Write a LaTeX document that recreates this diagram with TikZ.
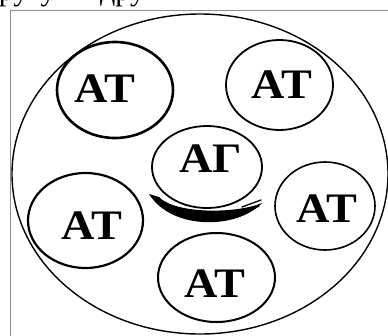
\documentclass[tikz,border=0pt]{standalone}
\usepackage{fontspec}
\setmainfont{Liberation Serif}
\newfontfamily\lblfont[FakeStretch=1.1]{Liberation Serif}
\usetikzlibrary{shapes.geometric}
\tikzset{
  cell/.style={ellipse, draw=black, inner sep=0pt, outer sep=0pt},
  lbl/.style={anchor=base, inner sep=0pt, font=\lblfont\bfseries\fontsize{42}{42}\selectfont},
  toptxt/.style={anchor=base west, inner sep=0pt, font=\fontsize{30}{30}\selectfont}
}
\begin{document}
\begin{tikzpicture}[x=1pt,y=-1pt]
\useasboundingbox (0,0) rectangle (388,335);
\clip (0,0) rectangle (388,335);
\fill[white] (0,0) rectangle (388,335);
% cut-off text line at the top
\node[toptxt] (w1) at (-16,0) {кругу};
\node[toptxt] (w2) at (100,0) {друг};
% frame
\draw[black!45, line width=1.5pt] (10.5,10.5) rectangle (420,420);
% outer ellipse
\node[cell, line width=1.4pt, minimum width=376pt, minimum height=320pt] (outer) at (200,174) {};
% small circles
\node[cell, line width=2.6pt, minimum width=116pt, minimum height=96pt] (c1) at (115,90) {};
\node[cell, line width=1.8pt, minimum width=107pt, minimum height=90pt] (c2) at (279.5,85) {};
\node[cell, line width=1.8pt, minimum width=110pt, minimum height=82pt] (c0) at (207,167) {};
\node[cell, line width=2.2pt, minimum width=115pt, minimum height=95pt] (c3) at (85.5,220.5) {};
\node[cell, line width=1.6pt, minimum width=100pt, minimum height=88pt] (c4) at (325,206) {};
\node[cell, line width=2pt, minimum width=117pt, minimum height=89pt] (c5) at (216.5,277.5) {};
% labels
\node[lbl] (t1) at (105,102) {АТ};
\node[lbl] (t2) at (282,98) {АТ};
\node[lbl] (t0) at (211,172) {АГ};
\node[lbl] (t3) at (92,239) {АТ};
\node[lbl] (t4) at (327,222) {АТ};
\node[lbl] (t5) at (215,297) {АТ};
% curved arrow under the centre circle
\fill[black] (149,194) .. controls (172,231) and (238,229) .. (262,203)
  .. controls (236,214) and (175,214) .. (159,197) -- cycle;
\draw[line width=1.3pt, line cap=round] (242,207) -- (261,200);
\draw[line width=1.3pt, line cap=round] (247,212) -- (259,206);
\end{tikzpicture}
\end{document}
